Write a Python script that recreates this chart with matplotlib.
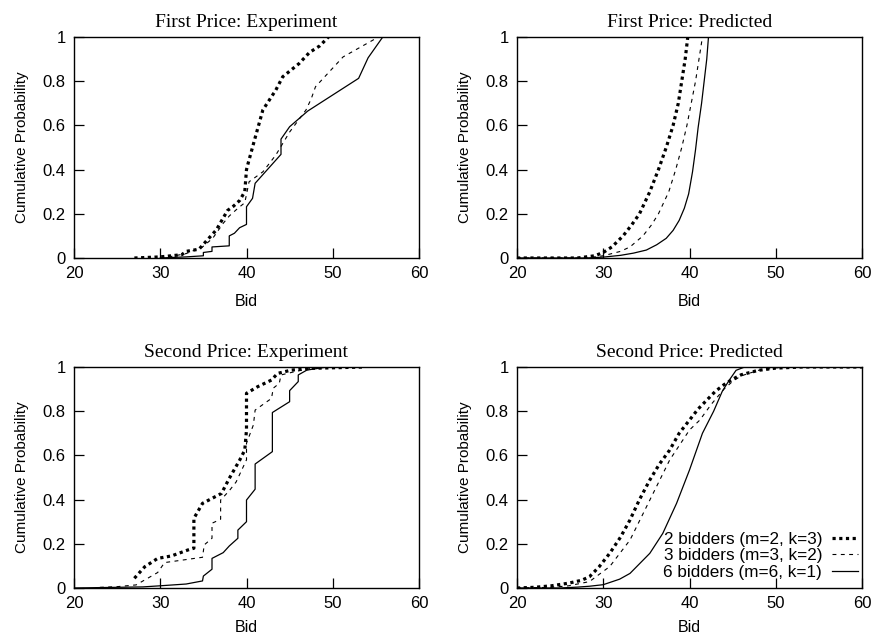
import matplotlib
matplotlib.use("Agg")
import matplotlib.pyplot as plt

# --- data ---
labels = ["2 bidders (m=2, k=3)", "3 bidders (m=3, k=2)", "6 bidders (m=6, k=1)"]

# First price, experiment
fpe_x2 = [27, 30, 32.5, 33, 34.5, 35.3, 36.5, 37.8, 38.5, 39.2, 39.8, 40, 40.2, 40.9, 41.9, 43.4, 44.2, 46.1, 47.3, 48.5, 49.5]
fpe_y2 = [0, 0.005, 0.015, 0.03, 0.04, 0.075, 0.127, 0.215, 0.235, 0.26, 0.30, 0.40, 0.43, 0.53, 0.67, 0.76, 0.82, 0.88, 0.93, 0.96, 1.0]
fpe_x3 = [30, 31, 33, 34.9, 36.1, 37.3, 38, 39, 39.8, 40.3, 41.9, 43.4, 45, 46.9, 47.5, 48, 51.2, 55.3]
fpe_y3 = [0, 0.005, 0.02, 0.05, 0.09, 0.157, 0.19, 0.225, 0.25, 0.345, 0.39, 0.466, 0.57, 0.67, 0.72, 0.775, 0.91, 1.0]
fpe_x6 = [30, 33, 35, 35, 36, 36, 38, 38, 38.6, 39.2, 40, 40, 40.7, 41, 44, 44, 45, 47.1, 53, 54.1, 55.8]
fpe_y6 = [0, 0.005, 0.01, 0.025, 0.03, 0.05, 0.055, 0.10, 0.112, 0.137, 0.152, 0.232, 0.27, 0.338, 0.469, 0.538, 0.594, 0.665, 0.813, 0.906, 1.0]

# First price, predicted
fpp_x2 = [20, 27, 29, 30, 31, 32.3, 33.3, 34.2, 35.4, 36.4, 37.3, 38.1, 38.7, 39.1, 39.5, 39.8]
fpp_y2 = [0, 0, 0.01, 0.025, 0.05, 0.10, 0.15, 0.20, 0.30, 0.40, 0.50, 0.60, 0.70, 0.80, 0.90, 1.0]
fpp_x3 = [20, 28, 30, 32, 33.1, 34.6, 35.6, 36.4, 37.6, 38.4, 39.1, 39.7, 40.2, 40.7, 41.1, 41.5]
fpp_y3 = [0, 0, 0.01, 0.03, 0.05, 0.10, 0.15, 0.20, 0.30, 0.40, 0.50, 0.60, 0.70, 0.80, 0.90, 1.0]
fpp_x6 = [20, 28, 30, 32, 33.5, 35, 36.2, 37.3, 38.1, 38.8, 39.4, 39.9, 40.35, 40.7, 41.0, 41.4, 41.7, 42.0, 42.2]
fpp_y6 = [0, 0, 0.004, 0.012, 0.022, 0.036, 0.06, 0.089, 0.125, 0.17, 0.225, 0.29, 0.39, 0.49, 0.59, 0.70, 0.80, 0.90, 1.0]

# Second price, experiment
spe_x2 = [27, 28.2, 29.7, 31.3, 33.2, 33.9, 33.9, 34.9, 37.1, 38, 39.2, 39.8, 40, 40, 41.3, 42.9, 43.6, 45.2, 47.5, 53.7]
spe_y2 = [0.044, 0.096, 0.134, 0.145, 0.172, 0.18, 0.315, 0.383, 0.428, 0.496, 0.578, 0.624, 0.715, 0.881, 0.911, 0.941, 0.971, 0.986, 0.994, 1.0]
spe_x3 = [23, 25, 27.2, 29.7, 30.5, 34.9, 35.1, 36, 36, 37, 37, 38, 38.8, 40, 40, 40.8, 41, 42.9, 43.1, 43.8, 44, 45.6, 47.5, 49]
spe_y3 = [0.003, 0.006, 0.014, 0.07, 0.115, 0.139, 0.195, 0.225, 0.293, 0.311, 0.398, 0.44, 0.48, 0.58, 0.655, 0.738, 0.805, 0.858, 0.904, 0.926, 0.964, 0.979, 0.994, 1.0]
spe_x6 = [20, 28, 30, 33, 34.9, 35, 36, 36, 37.3, 38, 39, 39, 40, 40, 41, 41, 43, 43, 45, 45, 46, 46, 47, 49, 52, 60]
spe_y6 = [0, 0.005, 0.01, 0.018, 0.032, 0.054, 0.085, 0.134, 0.16, 0.19, 0.225, 0.262, 0.30, 0.398, 0.447, 0.561, 0.617, 0.794, 0.843, 0.893, 0.934, 0.964, 0.986, 0.998, 1.0, 1.0]

# Second price, predicted
spp_x2 = [20, 22, 24, 26, 27.5, 28.4, 29.5, 30.75, 32, 33.1, 34.2, 35.4, 36.5, 37.7, 38.8, 40, 41, 42, 43, 44, 45, 46, 48, 50, 53, 60]
spp_y2 = [0, 0.003, 0.01, 0.022, 0.035, 0.051, 0.095, 0.157, 0.23, 0.308, 0.40, 0.489, 0.56, 0.624, 0.70, 0.76, 0.81, 0.85, 0.89, 0.92, 0.945, 0.965, 0.985, 0.995, 1.0, 1.0]
spp_x3 = [20, 24, 26, 28.4, 30.75, 33.1, 35.4, 37.7, 40, 41.2, 42.5, 44, 45, 46, 48, 50, 52, 60]
spp_y3 = [0, 0.003, 0.01, 0.029, 0.097, 0.217, 0.398, 0.579, 0.715, 0.76, 0.83, 0.90, 0.935, 0.96, 0.985, 0.996, 1.0, 1.0]
spp_x6 = [20, 25, 27, 28.4, 30, 31.9, 33.1, 35.4, 36.9, 38.5, 40, 41.5, 42.8, 43.8, 44.6, 45.4, 46.4, 60]
spp_y6 = [0, 0, 0.004, 0.008, 0.015, 0.04, 0.066, 0.157, 0.247, 0.383, 0.534, 0.70, 0.80, 0.89, 0.94, 0.985, 1.0, 1.0]

panels = [
    ("First Price: Experiment", (fpe_x2, fpe_y2), (fpe_x3, fpe_y3), (fpe_x6, fpe_y6)),
    ("First Price: Predicted", (fpp_x2, fpp_y2), (fpp_x3, fpp_y3), (fpp_x6, fpp_y6)),
    ("Second Price: Experiment", (spe_x2, spe_y2), (spe_x3, spe_y3), (spe_x6, spe_y6)),
    ("Second Price: Predicted", (spp_x2, spp_y2), (spp_x3, spp_y3), (spp_x6, spp_y6)),
]

styles = [
    dict(color="black", lw=2.3, ls=(0, (1, 1.1)), dash_capstyle="butt"),
    dict(color="black", lw=0.8, ls=(0, (3.5, 4)), dash_capstyle="butt"),
    dict(color="black", lw=0.9, ls="-"),
]

sans = "Liberation Sans"
serif = "Liberation Serif"

fig = plt.figure(figsize=(8.74, 6.33), dpi=100)
W, H = 874, 633
boxes = [(74, 37), (517, 37), (74, 367), (517, 367)]  # left, top in px
aw, ah = 345, 221

for i, ((title, *series), (l, t)) in enumerate(zip(panels, boxes)):
    ax = fig.add_axes([l / W, 1 - (t + ah) / H, aw / W, ah / H])
    for (x, y), lab, st in zip(series, labels, styles):
        ax.plot(x, y, label=lab, **st)
    ax.set_xlim(20, 60)
    ax.set_ylim(0, 1)
    ax.set_xticks([20, 30, 40, 50, 60])
    ax.set_yticks([0, 0.2, 0.4, 0.6, 0.8, 1])
    ax.set_yticklabels(["0", "0.2", "0.4", "0.6", "0.8", "1"])
    ax.tick_params(direction="in", length=7, width=0.9, top=False, right=False,
                   labelsize=12, pad=6)
    for lbl in ax.get_xticklabels() + ax.get_yticklabels():
        lbl.set_fontfamily(sans)
    for s in ax.spines.values():
        s.set_linewidth(1.0)
    ax.set_title(title, fontfamily=serif, fontsize=14, pad=7.5)
    ax.set_xlabel("Bid", fontfamily=sans, fontsize=11.5, labelpad=9 if i < 2 else 6)
    ax.set_ylabel("Cumulative Probability", fontfamily=sans, fontsize=11, labelpad=10)
    if i == 3:
        ax.legend(loc="lower right", bbox_to_anchor=(1 - 4 / aw, 8.5 / ah),
                  frameon=False, markerfirst=False,
                  prop={"family": sans, "size": 12.3}, handlelength=1.5,
                  handletextpad=0.6, labelspacing=0.07, borderaxespad=0,
                  borderpad=0)

fig.savefig("out.png", dpi=100)
